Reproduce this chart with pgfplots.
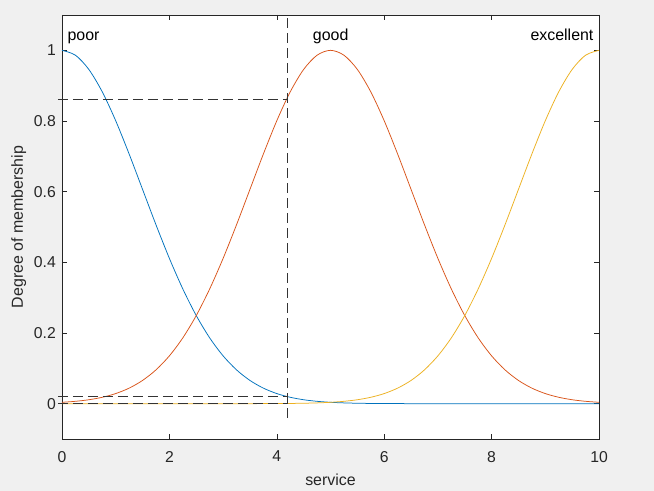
\documentclass[border=0pt]{standalone}
\usepackage{pgfplots}
\pgfplotsset{compat=1.18}
\usepackage{fontspec}
\setmainfont{Liberation Sans}
\definecolor{mblue}{rgb}{0,0.447,0.741}
\definecolor{morange}{rgb}{0.85,0.325,0.098}
\definecolor{myellow}{rgb}{0.929,0.694,0.125}
\definecolor{figbg}{HTML}{F0F0F0}
\definecolor{axgray}{HTML}{262626}
\begin{document}
\begin{tikzpicture}
\fill[figbg] (-62bp,-52bp) rectangle (592bp,439bp);
\begin{axis}[
  at={(0,0)}, anchor=south west,
  scale only axis, width=537bp, height=424bp,
  xmin=0, xmax=10, ymin=-0.1, ymax=1.1,
  xtick={0,2,...,10}, ytick={0,0.2,0.4,0.6,0.8,1},
  yticklabels={0,0.2,0.4,0.6,0.8,1},
  tick align=inside, major tick length=5bp,
  axis line style={axgray, line width=0.6bp},
  every tick/.style={axgray, line width=0.6bp},
  axis background/.style={fill=white},
  tick label style={font=\fontsize{15.8}{17}\selectfont, text=axgray},
  xticklabel style={yshift=-8.5bp},
  yticklabel style={xshift=-2.7bp},
  /pgf/number format/assume math mode=true,
  xlabel={service}, ylabel={Degree of membership},
  label style={font=\fontsize{16}{18}\selectfont, text=axgray},
  xlabel style={at={([yshift=-46bp]axis description cs:0.5,0)}, anchor=base},
  ylabel style={at={([xshift=-39bp]axis description cs:0,0.5)}, anchor=base},
  clip=false,
]
\pgfplotstableread{
x poor good exc
0 1 0.00387 0
0.25 0.98621 0.00665 0
0.5 0.94596 0.01111 0
0.75 0.88250 0.01807 0
1 0.80074 0.02857 0
1.25 0.70664 0.04394 0
1.5 0.60653 0.06573 0
1.75 0.50633 0.09565 0
2 0.41111 0.13534 0
2.25 0.32465 0.18627 0
2.5 0.24935 0.24935 0
2.75 0.18627 0.32465 0.00001
3 0.13534 0.41111 0.00002
3.25 0.09565 0.50633 0.00004
3.5 0.06573 0.60653 0.00008
3.75 0.04394 0.70664 0.00017
4 0.02857 0.80074 0.00034
4.25 0.01807 0.88250 0.00064
4.5 0.01111 0.94596 0.00120
4.75 0.00665 0.98621 0.00219
5 0.00387 1 0.00387
5.25 0.00219 0.98621 0.00665
5.5 0.00120 0.94596 0.01111
5.75 0.00064 0.88250 0.01807
6 0.00034 0.80074 0.02857
6.25 0.00017 0.70664 0.04394
6.5 0.00008 0.60653 0.06573
6.75 0.00004 0.50633 0.09565
7 0.00002 0.41111 0.13534
7.25 0.00001 0.32465 0.18627
7.5 0 0.24935 0.24935
7.75 0 0.18627 0.32465
8 0 0.13534 0.41111
8.25 0 0.09565 0.50633
8.5 0 0.06573 0.60653
8.75 0 0.04394 0.70664
9 0 0.02857 0.80074
9.25 0 0.01807 0.88250
9.5 0 0.01111 0.94596
9.75 0 0.00665 0.98621
10 0 0.00387 1
}\mf
\addplot[mblue, line width=0.75bp, smooth] table[x=x,y=poor] {\mf};
\addplot[morange, line width=0.75bp, smooth] table[x=x,y=good] {\mf};
\addplot[myellow, line width=0.75bp, smooth] table[x=x,y=exc] {\mf};
\addplot[black!80, line width=1bp, dash pattern=on 10bp off 5bp] coordinates {(4.2,-0.04) (4.2,1.1)};
\addplot[black!80, line width=1bp, dash pattern=on 10bp off 5bp] coordinates {(-0.075,0.861) (4.2,0.861)};
\addplot[black!80, line width=1bp, dash pattern=on 10bp off 5bp] coordinates {(-0.075,0.0215) (4.2,0.0215)};
\addplot[black!80, line width=1bp, dash pattern=on 10bp off 5bp] coordinates {(-0.075,0.0006) (4.2,0.0006)};
\node[anchor=base west, inner sep=0pt, font=\fontsize{16}{18}\selectfont] at (axis cs:0.1,1.028) {poor};
\node[anchor=base west, inner sep=0pt, font=\fontsize{16}{18}\selectfont] at (axis cs:4.67,1.028) {good};
\node[anchor=base east, inner sep=0pt, font=\fontsize{16}{18}\selectfont] at (axis cs:9.9,1.028) {excellent};
\end{axis}
\end{tikzpicture}
\end{document}
